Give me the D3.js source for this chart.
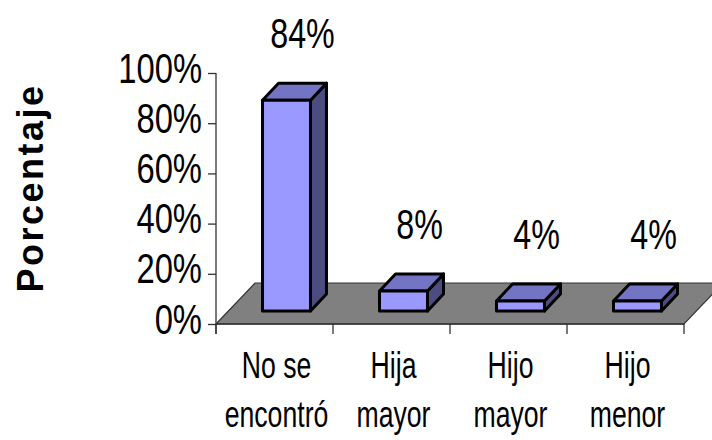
<!DOCTYPE html>
<html><head><meta charset="utf-8">
<script src="https://cdn.jsdelivr.net/npm/d3@7"></script>
<style>
html,body{margin:0;padding:0;background:#fff;}
svg{display:block;}
text{font-family:"Liberation Sans",Arial,sans-serif;}
</style></head>
<body>
<svg id="chart" width="712" height="440"></svg>
<script>
const categories = ["No se encontró", "Hija mayor", "Hijo mayor", "Hijo menor"];
const categoryLines = [["No se", "encontró"], ["Hija", "mayor"], ["Hijo", "mayor"], ["Hijo", "menor"]];
const values = [84, 8, 4, 4];
const valueLabels = ["84%", "8%", "4%", "4%"];
const yTicks = [0, 20, 40, 60, 80, 100];
const yTitle = "Porcentaje";

const svg = d3.select("#chart");
const plotLeft = 216, plotRight = 684, yBottom = 324, yTop = 73;
const floorDepth = [39, -41];
const barShift = [12, -13];
const barDepth = [16, -17];

const x = d3.scaleBand().domain(categories).range([plotLeft, plotRight]).padding(0);
const y = d3.scaleLinear().domain([0, 100]).range([yBottom, yTop]);
const bw = x.bandwidth();
const barW = bw * 0.41;

function condText(parent, px, py, str, size, sx, anchor) {
  const g = parent.append("g").attr("transform", `translate(${px},${py}) scale(${sx},1)`);
  return g.append("text").attr("font-size", size).attr("text-anchor", anchor).attr("fill", "#000").text(str);
}

// floor
const fl = [[plotLeft, y(0)], [plotRight, y(0)], [plotRight + floorDepth[0], y(0) + floorDepth[1]], [plotLeft + floorDepth[0], y(0) + floorDepth[1]]];
svg.append("path").attr("d", "M" + fl.map(p => p.join(",")).join("L") + "Z")
  .attr("fill", "#808080").attr("stroke", "#333").attr("stroke-width", 1.2);

// y axis
const yAxis = d3.axisLeft(y).tickValues(yTicks).tickSize(8).tickFormat(d => d + "%");
const gy = svg.append("g").attr("transform", `translate(${plotLeft},0)`).call(yAxis);
gy.select(".domain").remove();
gy.selectAll(".tick line").attr("stroke", "#333").attr("stroke-width", 1.3);
gy.selectAll(".tick text").remove();
gy.selectAll(".tick").each(function(d) {
  condText(d3.select(this), -14, 9, d + "%", 42, 0.78, "end");
});
svg.append("line").attr("x1", plotLeft).attr("x2", plotLeft).attr("y1", y(100)).attr("y2", y(0) + 10)
  .attr("stroke", "#333").attr("stroke-width", 1.3);

// x axis ticks
const bounds = categories.map(c => x(c)).concat([x.range()[1]]);
svg.append("line").attr("x1", plotLeft).attr("x2", plotRight).attr("y1", y(0)).attr("y2", y(0))
  .attr("stroke", "#333").attr("stroke-width", 1.3);
svg.selectAll(".xt").data(bounds).enter().append("line")
  .attr("x1", d => d).attr("x2", d => d).attr("y1", y(0)).attr("y2", y(0) + 10)
  .attr("stroke", "#333").attr("stroke-width", 1.3);

// category labels
categories.forEach((c, i) => {
  categoryLines[i].forEach((ln, j) => {
    condText(svg, x(c) + bw / 2 + 2, 378 + j * 49, ln, 37, 0.72, "middle");
  });
});

// bars
categories.forEach((c, i) => {
  const g = svg.append("g");
  const x0 = x(c) + (bw - barW) / 2 + barShift[0];
  const x1 = x0 + barW;
  const yt = y(values[i]) + barShift[1];
  const yb = y(0) + barShift[1];
  const [dx, dy] = barDepth;
  const poly = pts => "M" + pts.map(p => p.join(",")).join("L") + "Z";
  const parts = [
    g.append("path").attr("d", poly([[x1, yt], [x1 + dx, yt + dy], [x1 + dx, yb + dy], [x1, yb]])).attr("fill", "#4C4C80"),
    g.append("path").attr("d", poly([[x0, yt], [x1, yt], [x1 + dx, yt + dy], [x0 + dx, yt + dy]])).attr("fill", "#7474C4"),
    g.append("rect").attr("x", x0).attr("y", yt).attr("width", barW).attr("height", yb - yt).attr("fill", "#9999FF")
  ];
  parts.forEach(s => s.attr("stroke", "#000").attr("stroke-width", 3).attr("stroke-linejoin", "round"));
  condText(svg, x0 + barW / 2 + dx, yt - 52, valueLabels[i], 43, 0.75, "middle");
});

// y title
svg.append("text").attr("font-weight", "bold")
  .attr("font-size", 36).attr("letter-spacing", 2.5).attr("text-anchor", "middle").attr("fill", "#000")
  .attr("transform", "translate(43,188) rotate(-90)").text(yTitle);
</script>
</body></html>
